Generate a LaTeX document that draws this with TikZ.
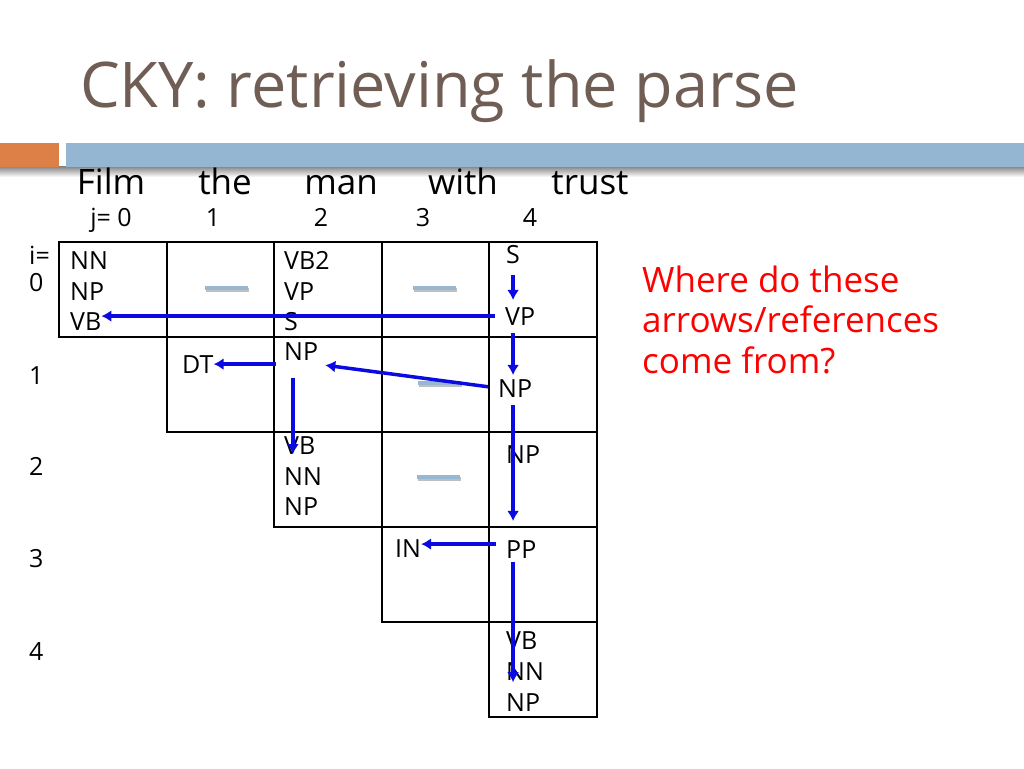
\documentclass[tikz,border=0pt]{standalone}
\usepackage{fontspec}
\setmainfont{Open Sans}
\usetikzlibrary{arrows.meta}
\definecolor{titlebrown}{RGB}{112,94,85}
\definecolor{barorange}{RGB}{221,128,71}
\definecolor{barblue}{RGB}{148,182,210}
\definecolor{refblue}{RGB}{10,10,225}
\definecolor{dashblue}{RGB}{150,184,210}
\tikzset{
	cellbox/.style={draw,line width=2pt},
	sym/.style={anchor=base west,inner sep=0pt,font=\fontsize{25}{30}\selectfont},
	ref/.style={draw=refblue,line width=3.5pt,-{Latex[length=10pt,width=12pt]}},
	emptydash/.style={line width=4.5pt,draw=dashblue},
}
\begin{document}
\begin{tikzpicture}[x=1pt,y=-1pt]
	\useasboundingbox (0,0) rectangle (1024,768);

	% title and bar
	\node[anchor=base west,inner sep=0pt,font=\fontsize{63}{70}\selectfont,text=titlebrown] (title) at (80,107) {CKY: retrieving the parse};
	\shade[top color=black!50,bottom color=white] (0,166) rectangle (1024,177);
	\fill[barorange] (0,143) rectangle (59,167);
	\fill[barblue] (66,143) rectangle (1024,167);

	% words and indices
	\begin{scope}[every node/.style={anchor=base,inner sep=0pt,font=\fontsize{35}{40}\selectfont}]
		\node (wfilm) at (111,194) {Film};
		\node (wthe) at (225,194) {the};
		\node (wman) at (341,194) {man};
		\node (wwith) at (463,194) {with};
		\node (wtrust) at (590,194) {trust};
	\end{scope}
	\node[sym,anchor=base] (jzero) at (111,226) {j= 0};
	\node[sym,anchor=base] (jone) at (213,226) {1};
	\node[sym,anchor=base] (jtwo) at (321,226) {2};
	\node[sym,anchor=base] (jthree) at (423,226) {3};
	\node[sym,anchor=base] (jfour) at (530,226) {4};
	\node[sym] (ieq) at (29,264) {i=};
	\node[sym] (izero) at (29,291) {0};
	\node[sym] (ione) at (29,384) {1};
	\node[sym] (itwo) at (29,475) {2};
	\node[sym] (ithree) at (29,567) {3};
	\node[sym] (ifour) at (29,660) {4};

	% chart
	\foreach \i in {0,...,4}
		\foreach \j in {\i,...,4}
			\draw[cellbox] ({59+107.5*\j},{242+95*\i}) rectangle +(107.5,95);

	% empty cells
	\foreach \x/\y in {205/288,413/288,418/383,417/477} {
		\draw[emptydash,draw=black!25] (\x+1,\y+2) -- +(43,0);
		\draw[emptydash] (\x,\y) -- +(43,0);
	}

	% cell contents
	\node[sym] (c00nn) at (70,269) {NN};
	\node[sym] (c00np) at (70,300) {NP};
	\node[sym] (c00vb) at (70,330) {VB};
	\node[sym] (c11dt) at (182,373) {DT};
	\node[sym] (c02vb) at (284,269) {VB2};
	\node[sym] (c02vp) at (284,300) {VP};
	\node[sym] (c02s) at (284,330) {S};
	\node[sym] (c12np) at (284,360) {NP};
	\node[sym] (c22vb) at (284,454) {VB};
	\node[sym] (c22nn) at (284,485) {NN};
	\node[sym] (c22np) at (284,515) {NP};
	\node[sym] (c33in) at (395,557) {IN};
	\node[sym] (c04s) at (506,263) {S};
	\node[sym] (c04vp) at (505,325) {VP};
	\node[sym] (c14np) at (498,397) {NP};
	\node[sym] (c24np) at (506,463) {NP};
	\node[sym] (c34pp) at (506,558) {PP};
	\node[sym] (c44vb) at (506,649) {VB};
	\node[sym] (c44nn) at (506,680) {NN};
	\node[sym] (c44np) at (506,711) {NP};

	% back pointers
	\draw[ref,shorten <=10pt] (c04vp.west) -- (c04vp.west -| c00vb.east);
	\draw[ref,shorten <=12pt,shorten >=7pt] (c04s.south) -- (c04s.south |- c04vp.north);
	\draw[ref,shorten <=8pt,shorten >=4pt] (c04s.south |- c04vp.south) -- (c04s.south |- c14np.north);
	\draw[ref,shorten <=10pt] (c14np.west) -- ([shift={(7pt,-5pt)}]c12np.south east);
	\draw[ref,shorten <=8pt] (c12np.west |- c11dt.east) -- (c11dt.east);
	\draw[ref,shorten <=18pt] ([xshift=9pt]c12np.south west) -- ([xshift=9pt]c12np.south west |- c22vb.base);
	\draw[ref,shorten <=8pt,shorten >=19pt] (c04s.south |- c14np.south) -- (c04s.south |- c34pp.north);
	\draw[ref,shorten <=10pt] ([yshift=5pt]c34pp.west) -- ([yshift=5pt]c34pp.west -| c33in.east);
	\draw[ref,shorten <=4pt,shorten >=-2pt] (c04s.south |- c34pp.south) -- (c04s.south |- c44nn.south);

	% question
	\node[anchor=base west,inner sep=0pt,align=left,text=red,font=\fontsize{35}{40.5}\selectfont] (question) at (642,373) {Where do these\\arrows/references\\come from?};
\end{tikzpicture}
\end{document}
